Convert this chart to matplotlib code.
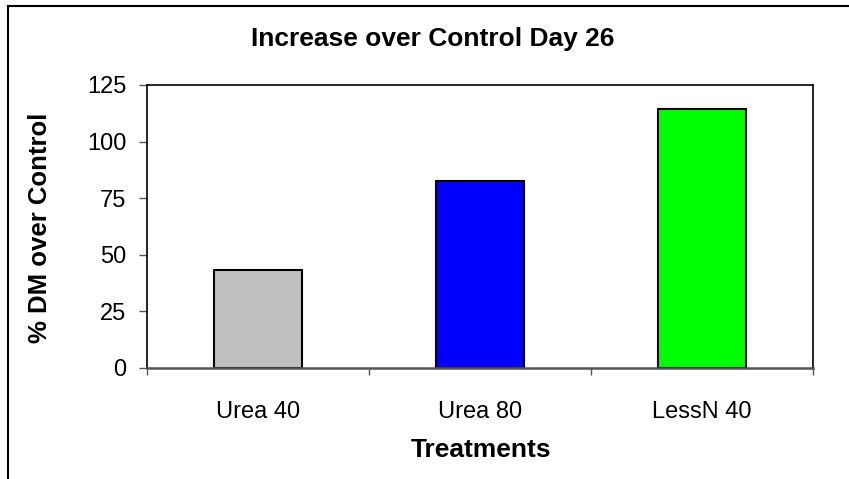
import matplotlib
matplotlib.use("Agg")
import matplotlib.pyplot as plt
from matplotlib.lines import Line2D

plt.rcParams['font.family'] = ['Liberation Sans', 'DejaVu Sans']

treatments = ['Urea 40', 'Urea 80', 'LessN 40']
increase = [43.2, 82.6, 114.6]
colors = ['#C0C0C0', '#0000FF', '#00FF00']
yticks = [0, 25, 50, 75, 100, 125]

W, H = 849, 479
fig = plt.figure(figsize=(W / 100, H / 100), dpi=100)
fig.patch.set_facecolor('white')

# plot area in pixel coords
left, right, top, bottom = 147, 813, 85, 368
ax = fig.add_axes([left / W, 1 - bottom / H, (right - left) / W, (bottom - top) / H])

x = list(range(1, len(treatments) + 1))
ax.bar(x, increase, width=0.4, color=colors, edgecolor='black', linewidth=1.5, zorder=3)

ax.set_xlim(0.5, len(treatments) + 0.5)
ax.set_ylim(0, 125)
ax.set_yticks(yticks)
ax.set_yticklabels([str(v) for v in yticks], fontsize=17)
ax.set_xticks(x)
ax.set_xticklabels(treatments, fontsize=17)
ax.set_xticks([i + 0.5 for i in range(len(treatments) + 1)], minor=True)

ax.tick_params(axis='y', direction='out', length=6, width=1, color='#555555', pad=9)
ax.tick_params(axis='x', which='major', length=0, pad=24)
ax.tick_params(axis='x', which='minor', direction='out', length=5, width=1, color='#555555')

for s in ['top', 'right', 'left']:
    ax.spines[s].set_color('black')
    ax.spines[s].set_linewidth(1.2)
ax.spines['bottom'].set_color('#555555')
ax.spines['bottom'].set_linewidth(1.8)
ax.spines['bottom'].set_zorder(4)

fig.text(433 / W, 1 - 39 / H, 'Increase over Control Day 26', fontsize=19,
         fontweight='bold', ha='center', va='center')
fig.text(40 / W, 1 - 228 / H, '% DM over Control', fontsize=18.5,
         fontweight='bold', rotation=90, ha='center', va='center')
fig.text(481 / W, 1 - 450 / H, 'Treatments', fontsize=19,
         fontweight='bold', ha='center', va='center')

# outer chart frame (cut off at right and bottom)
fx, fy = 7.5 / W, 1 - 6 / H
fig.add_artist(Line2D([fx, fx], [0, fy], transform=fig.transFigure, color='black', lw=1.5))
fig.add_artist(Line2D([fx, 1], [fy, fy], transform=fig.transFigure, color='black', lw=1.5))

fig.savefig('out.png', dpi=100, facecolor='white')
